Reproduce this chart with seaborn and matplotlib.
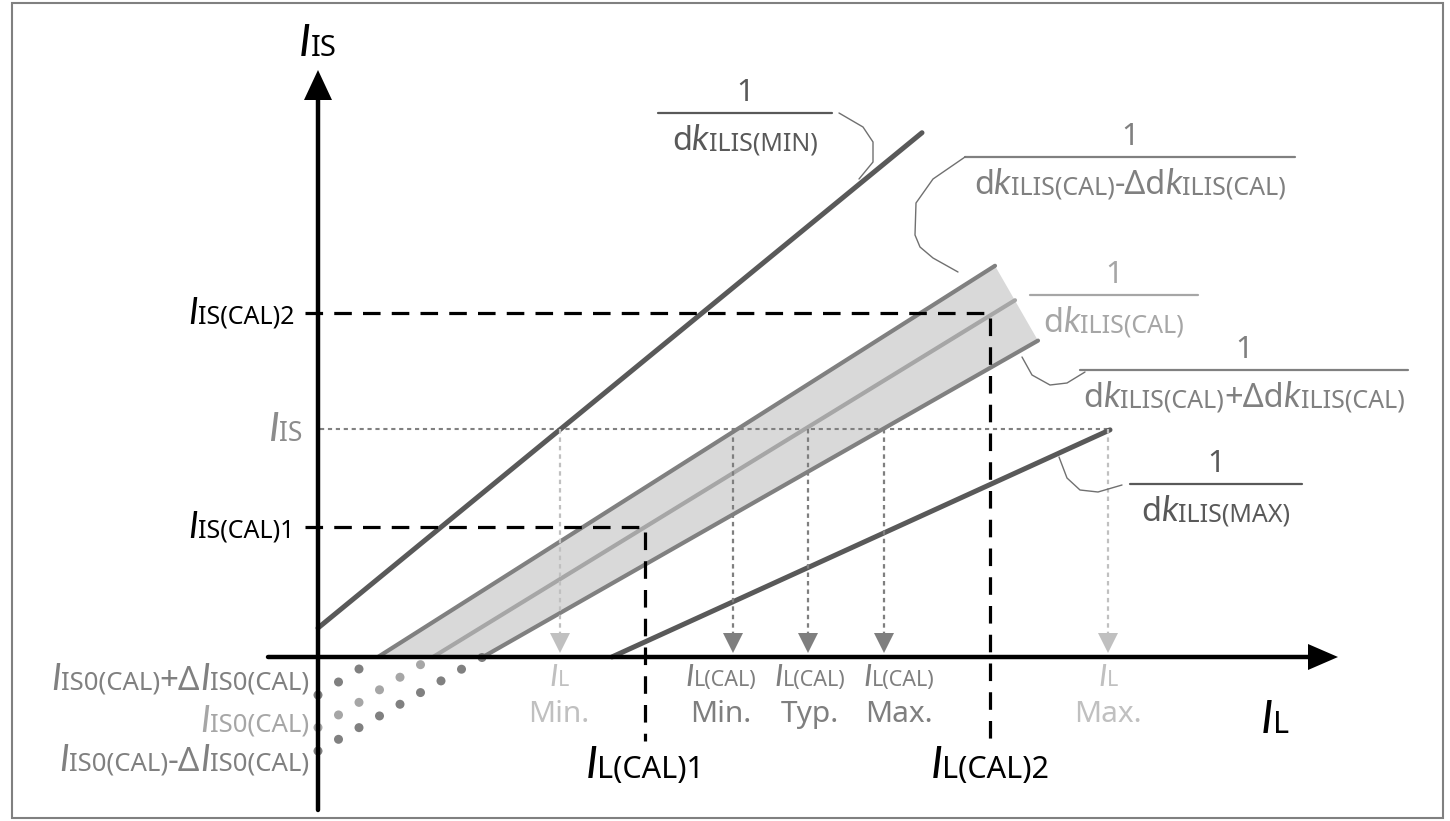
import numpy as np
import pandas as pd
import matplotlib
matplotlib.use("Agg")
import matplotlib.pyplot as plt
import seaborn as sns
from matplotlib.offsetbox import TextArea, HPacker, AnnotationBbox
from matplotlib.patches import Rectangle

sns.set_theme(style="white")
FONT = ['Noto Sans', 'DejaVu Sans']
IFONT = ['Lato', 'DejaVu Sans']
plt.rcParams['font.family'] = FONT

# ---------------- data (schematic units: origin at axes crossing) ----------------
line_names = ['MIN', 'CAL-D', 'CAL', 'CAL+D', 'MAX']
slopes = [0.82, 0.634, 0.613, 0.57, 0.456]
intercepts = [29, -38, -70.5, -94, -134]
x_start = [0, 60, 115, 165, 294]
x_end = [604, 677, 697, 720, 792]
line_colors = ['#595959', '#808080', '#a6a6a6', '#808080', '#595959']
line_widths = [3.6, 3.0, 3.0, 3.0, 3.6]

# dotted back-extension of the calibration band to the I_IS axis
dot_lines = [1, 2, 3]
dot_colors = ['#808080', '#a6a6a6', '#808080']

# calibration points
is_cal = [130, 344]
il_cal = [327, 672]
is_cal_labels = ['IS(CAL)1', 'IS(CAL)2']
il_cal_labels = ['L(CAL)1', 'L(CAL)2']

# measured I_IS and resulting I_L values
is_level = 228
il_arrows = [242, 415, 490, 566, 790]
arrow_colors = ['#c0c0c0', '#7f7f7f', '#7f7f7f', '#7f7f7f', '#c0c0c0']
il_top = ['L', 'L(CAL)', 'L(CAL)', 'L(CAL)', 'L']
il_bottom = ['Min.', 'Min.', 'Typ.', 'Max.', 'Max.']
il_label_x = [241, 403, 492, 581, 790]

# offset labels on the I_IS axis
offset_labels = [('+', -23, '#808080'), ('', -64, '#a6a6a6'), ('-', -104, '#808080')]

# fraction labels: (denominator parts, bar x0, bar x1, bar y, colour, leader x, leader y)
SZ, SB = 23.5, 18
frac_labels = [
    ([('d', SZ, 0), ('k', SZ, 1), ('ILIS(MIN)', SB, 0)], 340, 514, 544, '#595959',
     [521, 545, 555, 555, 541], [544, 530, 515, 495, 478]),
    ([('d', SZ, 0), ('k', SZ, 1), ('ILIS(CAL)', SB, 0), ('-\u0394d', SZ, 0), ('k', SZ, 1), ('ILIS(CAL)', SB, 0)],
     647, 977, 500, '#808080',
     [647, 615, 598, 597, 602, 615, 640], [500, 478, 454, 422, 410, 399, 385]),
    ([('d', SZ, 0), ('k', SZ, 1), ('ILIS(CAL)', SB, 0)], 712, 880, 362, '#a6a6a6', None, None),
    ([('d', SZ, 0), ('k', SZ, 1), ('ILIS(CAL)', SB, 0), ('+\u0394d', SZ, 0), ('k', SZ, 1), ('ILIS(CAL)', SB, 0)],
     762, 1090, 287, '#808080',
     [704, 714, 732, 749, 767], [300, 282, 272, 274, 285]),
    ([('d', SZ, 0), ('k', SZ, 1), ('ILIS(MAX)', SB, 0)], 812, 984, 173, '#595959',
     [741, 749, 762, 780, 804], [200, 179, 167, 165, 172]),
]

# ---------------- figure ----------------
fig = plt.figure(figsize=(14.5, 8.21), dpi=100)
ax = fig.add_axes([0, 0, 1, 1])
ax.set_xlim(-318, 1132)
ax.set_ylim(-164, 657)
ax.axis('off')

fig.patches.append(Rectangle((12 / 1450, 3 / 821), 1431 / 1450, 815 / 821, transform=fig.transFigure,
                             fill=False, ec='#808080', lw=1.5, zorder=0))


def rich(x, y, parts, color, align=(0.5, 0.5), z=6):
    kids = []
    for t, s, it in parts:
        kids.append(TextArea(t, textprops=dict(color=color, fontsize=s * (1.08 if it else 1.0),
                                               family=IFONT if it else FONT,
                                               fontstyle='italic' if it else 'normal')))
    box = HPacker(children=kids, align='baseline', pad=0, sep=0)
    ab = AnnotationBbox(box, (x, y), xycoords='data', frameon=False, box_alignment=align, pad=0,
                        zorder=z)
    ax.add_artist(ab)


# band fill
up = 1
lo = 3
xu = np.array([x_start[up], x_end[up]])
xl = np.array([x_end[lo], x_start[lo]])
poly_x = np.concatenate([xu, xl])
poly_y = np.concatenate([slopes[up] * xu + intercepts[up], slopes[lo] * xl + intercepts[lo]])
ax.fill(poly_x, poly_y, color='#d9d9d9', lw=0, zorder=1)

# characteristic lines
for i, name in enumerate(line_names):
    xs = np.array([x_start[i], x_end[i]])
    df = pd.DataFrame({'x': xs, 'y': slopes[i] * xs + intercepts[i]})
    sns.lineplot(data=df, x='x', y='y', ax=ax, color=line_colors[i], lw=line_widths[i],
                 solid_capstyle='round', zorder=3)

# dotted extension to the axis
for i, c in zip(dot_lines, dot_colors):
    xd = np.arange(0, x_start[i] + 1, 20.5)
    dd = pd.DataFrame({'x': xd, 'y': slopes[i] * xd + intercepts[i]})
    sns.scatterplot(data=dd, x='x', y='y', ax=ax, color=c, s=42, edgecolor='none', zorder=4)

# calibration dashed lines
for yc, xc in zip(is_cal, il_cal):
    ax.plot([-13, xc, xc], [yc, yc, -84], color='black', lw=2.3, ls=(0, (5.5, 3.5)), zorder=5)

# measured I_IS dotted line
ax.plot([2, il_arrows[-1]], [is_level, is_level], color='#808080', lw=1.5, ls=(0, (2, 1.8)), zorder=2)

# dotted arrows down to the I_L axis
for xa, c in zip(il_arrows, arrow_colors):
    ax.plot([xa, xa], [is_level, 24], color=c, lw=1.6, ls=(0, (2, 1.8)), zorder=4)
    ax.fill([xa - 10, xa + 10, xa], [24, 24, 4], color=c, lw=0, zorder=4)

# axes with arrowheads
ax.plot([0, 0], [-153, 560], color='black', lw=3.2, zorder=6)
ax.fill([-14, 14, 0], [557, 557, 587], color='black', lw=0, zorder=6)
ax.plot([-50, 993], [0, 0], color='black', lw=3.2, zorder=6)
ax.fill([990, 990, 1020], [-13, 13, 0], color='black', lw=0, zorder=6)

# axis titles
rich(0, 614, [('I', 30, 1), ('IS', 21, 0)], 'black')
rich(957, -63, [('I', 31, 1), ('L', 22, 0)], 'black')

# I_IS labels
for yc, lab in zip(is_cal, is_cal_labels):
    rich(-24, yc, [('I', 24, 1), (lab, 18, 0)], 'black', align=(1, 0.5))
rich(-16, is_level, [('I', 27, 1), ('IS', 19, 0)], '#8c8c8c', align=(1, 0.5))
for sign, yo, c in offset_labels:
    parts = [('I', 24, 1), ('IS0(CAL)', 18.5, 0)]
    if sign:
        parts += [(sign + '\u0394', 24, 0), ('I', 24, 1), ('IS0(CAL)', 18.5, 0)]
    rich(-9, yo, parts, c, align=(1, 0.5))

# I_L labels
for xc, lab in zip(il_cal, il_cal_labels):
    rich(xc, -108, [('I', 30, 1), (lab, 22, 0)], 'black')
for xl_, top, bot, c in zip(il_label_x, il_top, il_bottom, arrow_colors):
    rich(xl_, -20, [('I', 21, 1), (top, 15.5, 0)], c)
    ax.text(xl_, -57, bot, color=c, fontsize=21.5, ha='center', va='center', family=FONT)

# fraction labels with leaders
for parts, bx0, bx1, by, c, lx, ly in frac_labels:
    ax.plot([bx0, bx1], [by, by], color=c, lw=1.6, zorder=5)
    ax.text((bx0 + bx1) / 2, by + 20, '1', color=c, fontsize=22, ha='center', va='center', family=FONT)
    rich((bx0 + bx1) / 2, by - 28, parts, c)
    if lx is not None:
        ax.plot(lx, ly, color='#707070', lw=1.0, zorder=5)

fig.savefig('out.png', dpi=100)
